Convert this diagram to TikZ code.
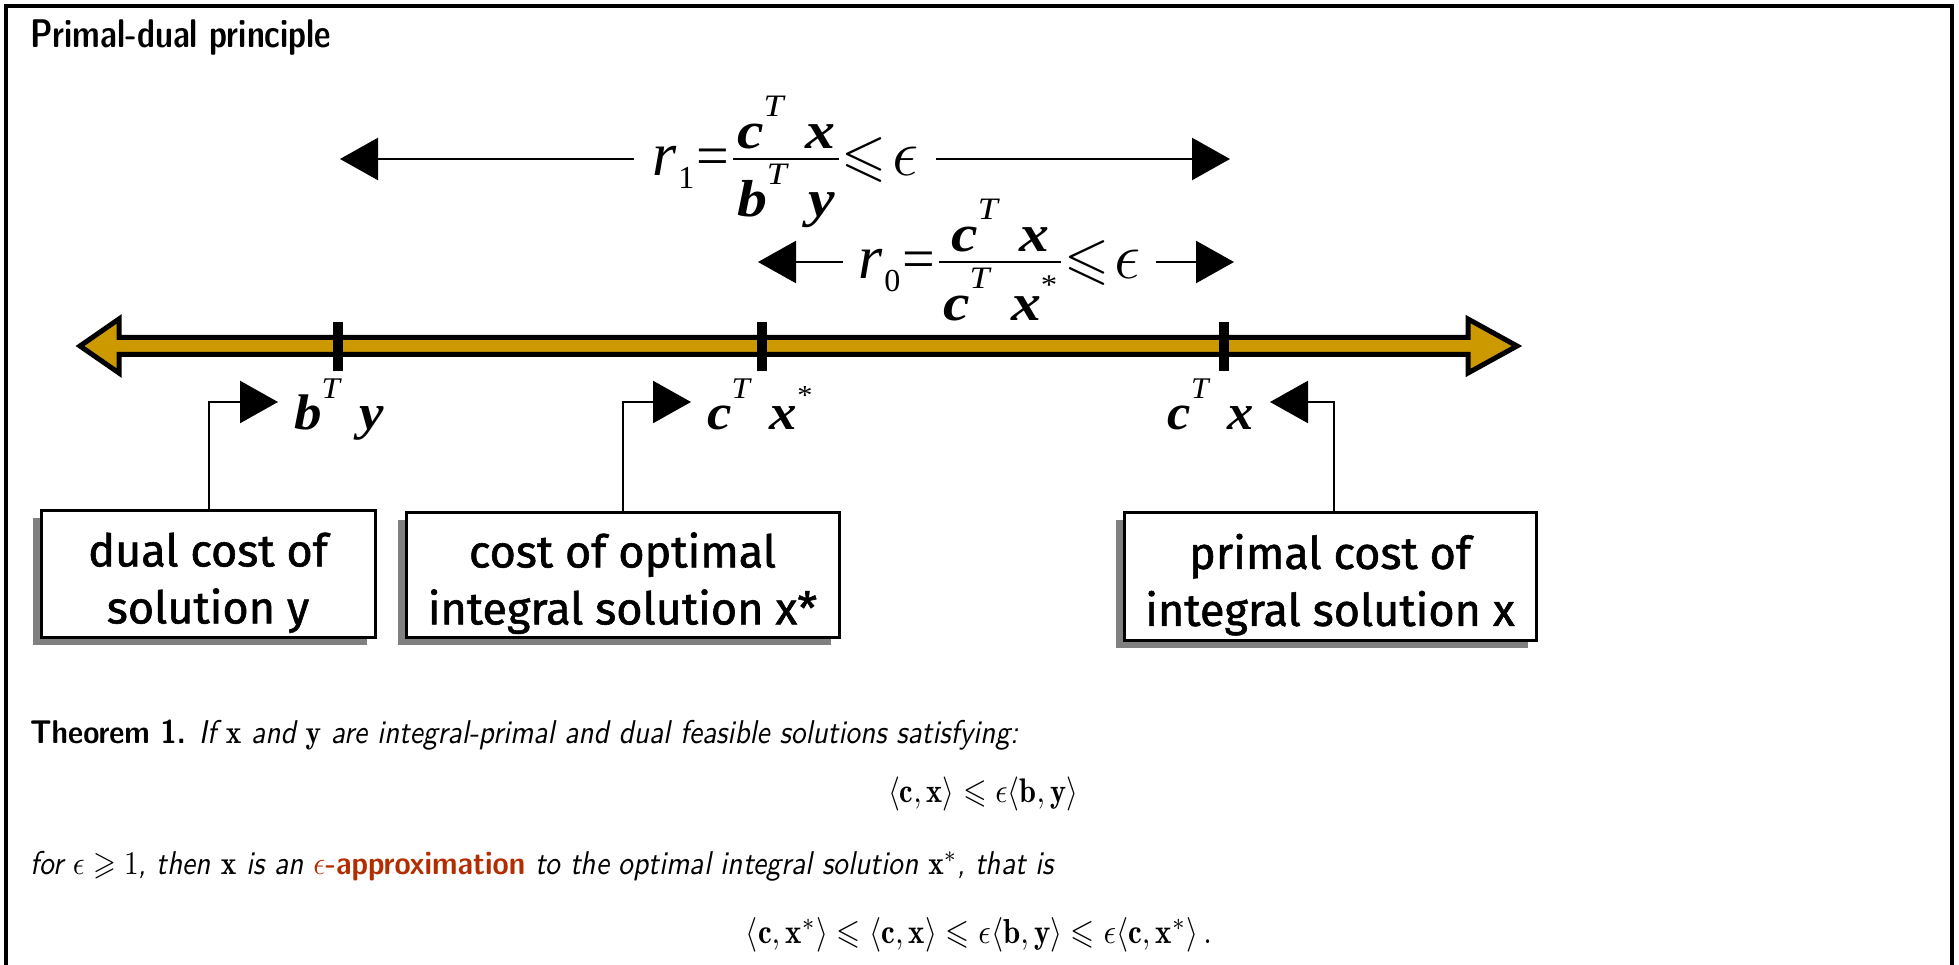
\RequirePackage{fix-cm}
\documentclass[tikz,border=0pt]{standalone}
\usepackage{amsmath,amssymb}
\usepackage{fontspec}
\usepackage{graphicx}
\newfontfamily\tnr{Liberation Serif}
\newfontfamily\comic[FakeBold=1.3]{Fira Sans}
\usetikzlibrary{arrows.meta,shadows}
\definecolor{gold}{RGB}{204,153,0}
\definecolor{rust}{RGB}{180,45,0}
\definecolor{shadowgray}{RGB}{128,128,128}
\newcommand\bi[1]{{\tnr\bfseries\itshape #1}}
\newcommand\supT{\raisebox{.62em}{\scalebox{.6}{\tnr\itshape T}}}
\newcommand\cTx{\bi{c}\supT\hspace{.36em}\bi{x}}
\newcommand\cTxs{\cTx\raisebox{.5em}{\scalebox{.55}{\tnr *}}}
\newcommand\bTy{\bi{b}\supT\hspace{.36em}\bi{y}}
% fraction: #1 numerator, #2 denominator, #3 how far the denominator baseline is lowered
\newcommand\fracbox[3]{%
  \setbox0\hbox{#1}\setbox2\hbox{#2}%
  \dimen0=\ifdim\wd0>\wd2 \wd0\else\wd2\fi
  \advance\dimen0 by 8pt
  \hbox to\dimen0{%
    \rlap{\hbox to\dimen0{\hss\raise 27pt\box0\hss}}%
    \rlap{\hbox to\dimen0{\hss\lower #3\box2\hss}}%
    \vrule height 18.2pt depth -15.8pt width\dimen0}}
\newcommand\fracfont{\fontsize{52}{54}\selectfont}
\newcommand\rlab[3]{%
  {\fontsize{62}{64}\selectfont\tnr\itshape r}\hspace{2pt}%
  \raisebox{-13pt}{\fontsize{32}{34}\selectfont\tnr #1}\hspace{2pt}%
  {\fontsize{58}{60}\selectfont\tnr =}\hspace{4pt}%
  \fracbox{\fracfont\scalebox{1.15}[1]{\cTx}}{\fracfont\scalebox{1.15}[1]{#2}}{#3}\hspace{3pt}%
  \raisebox{1pt}{\fontsize{58}{60}\selectfont$\leqslant$}\hspace{5pt}%
  {\fontsize{66}{68}\selectfont$\epsilon$}}
\newcommand\sq[3][1.12]{\scalebox{1}[#1]{\resizebox{#2}{!}{#3}}}
\newcommand\boxtext[2]{\raisebox{-10pt}[\height][\depth]{\begin{tabular}{@{}c@{}}#1\\#2\end{tabular}}}
\begin{document}
\begin{tikzpicture}[x=1pt,y=-1pt,
  lbl/.style={font=\fontsize{50}{52}\selectfont, inner xsep=16pt, inner ysep=0pt},
  rlbl/.style={inner xsep=18pt, inner ysep=0pt, anchor=base west},
  costbox/.style={draw, line width=3pt, fill=white, align=center,
    font=\comic\fontsize{45}{57}\selectfont, inner sep=0pt,
    drop shadow={shadow xshift=-8pt, shadow yshift=-8pt, fill=shadowgray, opacity=1}},
  conn/.style={line width=2.5pt},
  tip/.style={-{Triangle[length=38pt,width=42pt]}},
  ticks/.style={line width=10pt},
  txt/.style={inner sep=0pt, font=\sffamily\fontsize{10}{12}\selectfont}]
\useasboundingbox (0,0) rectangle (1959,965);
% frame
\draw[line width=4pt] (6,965) -- (6,6) -- (1952,6) -- (1952,965);
% title
\node[txt, anchor=base west] (title) at (30,48) {\sq[1.25]{301pt}{\bfseries Primal-dual principle}};
% axis
\draw[fill=gold, line width=5pt, line join=miter]
  (80,346) -- (119,319) -- (119,337.5) -- (1468,337.5) -- (1468,319) -- (1517,346)
  -- (1468,373) -- (1468,354.5) -- (119,354.5) -- (119,373) -- cycle;
\draw[ticks] (338,322) -- (338,371);
\draw[ticks] (762,322) -- (762,371);
\draw[ticks] (1224,322) -- (1224,371);
% ratio arrows
\node[rlbl] (r1) at (634,176) {\rlab{1}{\bTy}{41pt}};
\coordinate (a1L) at (340,159);
\coordinate (a1R) at (1230,159);
\draw[conn,tip] (r1.west |- a1L) -- (a1L);
\draw[conn,tip] (r1.east |- a1R) -- (a1R);
\node[rlbl, inner xsep=15pt] (r0) at (843,279) {\rlab{0}{\cTxs}{42pt}};
\coordinate (a0L) at (758,262);
\coordinate (a0R) at (1234,262);
\draw[conn,tip] (r0.west |- a0L) -- (a0L);
\draw[conn,tip] (r0.east |- a0R) -- (a0R);
% labels under axis
\node[lbl, anchor=base west] (by) at (278,429) {\scalebox{1.1}[1]{\bTy}};
\node[lbl, anchor=base west] (cxs) at (691,429) {\scalebox{1.1}[1]{\cTxs}};
\node[lbl, anchor=base east] (cx) at (1270,429) {\scalebox{1.05}[1]{\cTx}};
% boxes
\node[costbox, minimum width=334pt, minimum height=127pt] (box1) at (208,573.5) {\boxtext{dual cost of}{solution y}};
\node[costbox, minimum width=433pt, minimum height=125pt] (box2) at (622.5,574.5) {\boxtext{cost of optimal}{integral solution x*}};
\node[costbox, minimum width=412pt, minimum height=128pt] (box3) at (1330,576) {\boxtext{primal cost of}{integral solution x}};
% connectors
\coordinate (b1) at (209,402);
\coordinate (b2) at (623,402);
\coordinate (b3) at (1334,402);
\draw[conn,tip] (box1.north -| b1) -- (b1) -- (by.west |- b1);
\draw[conn,tip] (box2.north -| b2) -- (b2) -- (cxs.west |- b2);
\draw[conn,tip] (box3.north -| b3) -- (b3) -- (cx.east |- b3);
% theorem
\node[txt, anchor=base west] (thm) at (30,743) {\sq{988pt}{\textbf{Theorem 1.} \textit{If $\mathbf{x}$ and $\mathbf{y}$ are integral-primal and dual feasible solutions satisfying:}}};
\node[txt, anchor=base] (eq1) at (983,802) {\sq{190pt}{$\langle\mathbf{c},\mathbf{x}\rangle\leqslant\epsilon\langle\mathbf{b},\mathbf{y}\rangle$}};
\node[txt, anchor=base west] (for) at (30,874) {\sq{1025pt}{\textit{for $\epsilon\geqslant 1$, then $\mathbf{x}$ is an} \textcolor{rust}{$\epsilon$\textbf{-approximation}} \textit{to the optimal integral solution $\mathbf{x}^*$, that is}}};
\node[txt, anchor=base] (eq2) at (979,943) {\sq{466pt}{$\langle\mathbf{c},\mathbf{x}^*\rangle\leqslant\langle\mathbf{c},\mathbf{x}\rangle\leqslant\epsilon\langle\mathbf{b},\mathbf{y}\rangle\leqslant\epsilon\langle\mathbf{c},\mathbf{x}^*\rangle\,.$}};
\end{tikzpicture}
\end{document}
